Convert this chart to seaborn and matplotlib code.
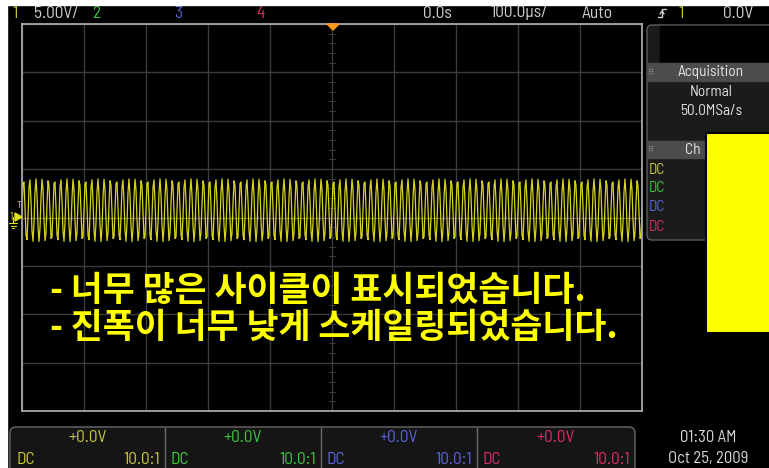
import numpy as np
import pandas as pd
import matplotlib
matplotlib.use("Agg")
import matplotlib.pyplot as plt
from matplotlib.patches import FancyBboxPatch, Rectangle, Polygon
import seaborn as sns

sns.set_theme(style="dark")
plt.rcParams["font.family"] = ["Barlow Semi Condensed", "DejaVu Sans"]

# ---- scope settings / measured channel-1 signal ----
volts_per_div = 5.0
time_per_div_us = 100.0
n_hdiv, n_vdiv = 10, 8
signal_freq_khz = 100.0
signal_amp_v = 3.25
signal_offset_v = 0.75
display_points = 621

channel_labels = ["1", "2", "3", "4"]
channel_colors = ["#c8c83c", "#3cc83c", "#5a64dc", "#dc2a6e"]
channel_offsets = ["+0.0V", "+0.0V", "+0.0V", "+0.0V"]
channel_coupling = ["DC", "DC", "DC", "DC"]
channel_probe = ["10.0:1", "10.0:1", "10.0:1", "10.0:1"]

status_left = ["1", "5.00V/", "2", "3", "4"]
status_right = ["0.0s", "100.0µs/", "Auto", "1", "0.0V"]
acq_mode = ["Normal", "50.0MSa/s"]
clock_text = ["01:30 AM", "Oct 25, 2009"]
messages = ["- 너무 많은 사이클이 표시되었습니다.",
            "- 진폭이 너무 낮게 스케일링되었습니다."]

W, H = 769, 468
fig = plt.figure(figsize=(W / 100, H / 100), dpi=100, facecolor="black")

# ---- graticule axes ----
gx0, gx1, gy0, gy1 = 22, 642, 24, 411
ax = fig.add_axes([gx0 / W, 1 - gy1 / H, (gx1 - gx0) / W, (gy1 - gy0) / H])
ax.set_facecolor("black")
half_t = time_per_div_us * n_hdiv / 2
half_v = volts_per_div * n_vdiv / 2
ax.set_xlim(-half_t, half_t)
ax.set_ylim(-half_v, half_v)
ax.set_xticks(np.arange(-half_t, half_t + 1, time_per_div_us))
ax.set_yticks(np.arange(-half_v, half_v + 0.1, volts_per_div))
ax.grid(True, color="#3c3c3c", lw=1.0)
ax.tick_params(length=0, labelbottom=False, labelleft=False)
for s in ax.spines.values():
    s.set_color("#a8a8a8")
    s.set_linewidth(1.3)

# centre crosshair sub-division ticks
for xt in np.arange(-half_t, half_t + 1, time_per_div_us / 5):
    ax.plot([xt, xt], [-0.3, 0.3], color="#3a3a3a", lw=0.7)
for yt in np.arange(-half_v, half_v + 0.1, volts_per_div / 5):
    ax.plot([-5, 5], [yt, yt], color="#3a3a3a", lw=0.7)
ax.axhline(0, color="#55553a", lw=0.8)

# channel-1 trace
t_us = np.linspace(-half_t, half_t, display_points)
volts = signal_offset_v + signal_amp_v * np.sin(2 * np.pi * signal_freq_khz * 1e-3 * t_us)
trace = pd.DataFrame({"t": t_us, "v": volts})
sns.lineplot(data=trace, x="t", y="v", ax=ax, color="#d4d41c", lw=0.9,
             estimator=None, sort=False)
ax.set_xlabel("")
ax.set_ylabel("")

# ---- overlay in pixel coordinates ----
ov = fig.add_axes([0, 0, 1, 1], facecolor="none")
ov.set_xlim(0, W)
ov.set_ylim(H, 0)
ov.axis("off")

ov.add_patch(Rectangle((0, 0), W, 5, color="white", zorder=10))
ov.add_patch(Rectangle((0, 0), 7, H, color="white", zorder=10))

# status line
fs = 12.5
ty = 13
grey = "#d0d0d0"
ov.text(12, ty, status_left[0], color=channel_colors[0], fontsize=fs, va="center")
ov.text(34, ty, status_left[1], color=grey, fontsize=fs, va="center")
ov.text(92, ty, status_left[2], color=channel_colors[1], fontsize=fs, va="center")
ov.text(174, ty, status_left[3], color=channel_colors[2], fontsize=fs, va="center")
ov.text(256, ty, status_left[4], color=channel_colors[3], fontsize=fs, va="center")
ov.text(423, ty, status_right[0], color=grey, fontsize=fs, va="center")
ov.text(490, ty, status_right[1], color=grey, fontsize=fs, va="center")
ov.text(582, ty, status_right[2], color=grey, fontsize=fs, va="center")
ov.text(678, ty, status_right[3], color=channel_colors[0], fontsize=fs, va="center")
ov.text(723, ty, status_right[4], color=grey, fontsize=fs, va="center")
# rising-edge trigger glyph
ov.plot([658, 662, 662, 666], [17, 17, 9, 9], color=grey, lw=1.0)
ov.plot([660, 662, 664], [14, 11, 14], color=grey, lw=1.0)

# trigger position marker
ov.add_patch(Polygon([[327, 24], [339, 24], [333, 30]], closed=True,
                     color="#ff9a1a", zorder=5))

# channel-1 ground marker
c1 = "#e0e020"
ov.text(19, 205, "T", color=c1, fontsize=7, ha="center", va="center")
ov.text(11, 217, "1", color=c1, fontsize=8, ha="center", va="center")
ov.add_patch(Polygon([[15, 213], [22, 217], [15, 221]], closed=True, color=c1))
ov.plot([13, 13], [217, 223], color=c1, lw=0.8)
ov.plot([9, 17], [223, 223], color=c1, lw=0.8)
ov.plot([10.5, 15.5], [225.5, 225.5], color=c1, lw=0.8)
ov.plot([12, 14], [228, 228], color=c1, lw=0.8)

# ---- right info panel ----
pfs = 11
ov.add_patch(FancyBboxPatch((647, 25), 140, 215, boxstyle="round,pad=0,rounding_size=5",
                            fc="#1b1b1b", ec="#5c5c5c", lw=1.0))
ov.add_patch(Rectangle((660, 26), 110, 37, color="black"))
ov.add_patch(Rectangle((647.5, 63), 122, 18, color="#4c4c4c"))
ov.text(711, 72, "Acquisition", color="#e6e6e6", fontsize=pfs, ha="center", va="center")
ov.text(651, 72, "⠿", color="#9a9a9a", fontsize=6, ha="center", va="center",
        family=["DejaVu Sans"])
ov.text(711, 92, acq_mode[0], color="#e0e0e0", fontsize=pfs, ha="center", va="center")
ov.text(711, 111, acq_mode[1], color="#e0e0e0", fontsize=pfs, ha="center", va="center")
ov.add_patch(Rectangle((647.5, 141), 122, 17, color="#4c4c4c"))
ov.text(651, 149.5, "⠿", color="#9a9a9a", fontsize=6, ha="center", va="center",
        family=["DejaVu Sans"])
ov.text(685, 149.5, "Ch", color="#e6e6e6", fontsize=pfs, ha="left", va="center")
for i, yy in enumerate([170, 188, 207, 227]):
    ov.text(649, yy, channel_coupling[i], color=channel_colors[i], fontsize=pfs, va="center")

# highlighted block
ov.add_patch(Rectangle((706, 133), 70, 200, fc="#ffff00", ec="black", lw=1.5, zorder=6))

# ---- message text ----
for yy, msg in zip([290, 327], messages):
    ov.text(50, yy, msg, color="#ffff00", fontsize=25, fontweight="bold",
            family=["Noto Sans CJK KR", "DejaVu Sans"], va="center", zorder=7)

# ---- channel summary bar ----
bfs = 12.5
ov.add_patch(FancyBboxPatch((10, 427), 625, 60, boxstyle="round,pad=0,rounding_size=6",
                            fc="#151515", ec="#6a6a6a", lw=1.0))
edges = [10, 165, 321, 477, 635]
for xd in edges[1:-1]:
    ov.plot([xd, xd], [428, H], color="#6a6a6a", lw=1.0)
for i in range(4):
    x0, x1 = edges[i], edges[i + 1]
    col = channel_colors[i]
    ov.text((x0 + x1) / 2, 438, channel_offsets[i], color=col, fontsize=bfs,
            ha="center", va="center")
    ov.text(x0 + 6, 459, channel_coupling[i], color=col, fontsize=bfs, ha="left", va="center")
    ov.text(x1 - 5, 459, channel_probe[i], color=col, fontsize=bfs, ha="right", va="center")

ov.text(708, 437, clock_text[0], color="#d8d8d8", fontsize=12, ha="center", va="center")
ov.text(708, 459, clock_text[1], color="#d8d8d8", fontsize=12, ha="center", va="center")

fig.savefig("out.png", dpi=100, facecolor="black")
